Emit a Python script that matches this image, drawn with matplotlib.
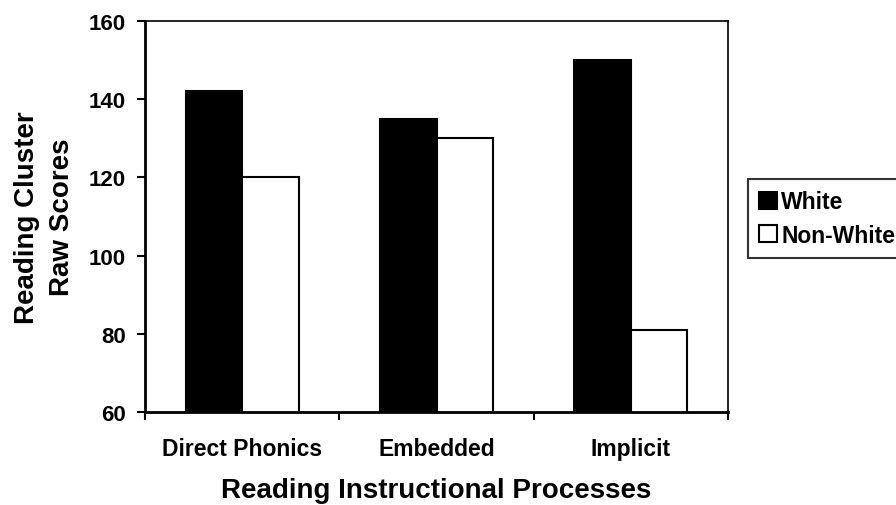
import matplotlib.pyplot as plt
import numpy as np

plt.rcParams['font.family'] = ['Liberation Sans', 'DejaVu Sans']
plt.rcParams['font.weight'] = 'bold'

categories = ['Direct Phonics', 'Embedded', 'Implicit']
white = [142, 135, 150]
non_white = [120, 130, 81]

fig = plt.figure(figsize=(8.96, 5.06), dpi=100)
ax = fig.add_axes([145/896, 1 - 413/506, 583/896, 391/506])

x = np.arange(len(categories))
w = 0.29
ax.bar(x - w/2, white, w, color='black', edgecolor='black', linewidth=1.5, label='White')
ax.bar(x + w/2, non_white, w, color='white', edgecolor='black', linewidth=1.5, label='Non-White')

ax.set_xlim(-0.5, 2.5)
ax.set_ylim(60, 160)
ax.set_yticks([60, 80, 100, 120, 140, 160])
ax.set_xticks(x)
ax.set_xticklabels(categories)
ax.set_xticks([-0.5, 0.5, 1.5, 2.5], minor=True)
ax.tick_params(axis='x', which='major', length=0, pad=18, labelsize=16.5)
ax.tick_params(axis='x', which='minor', length=6, width=1.5, direction='out')
ax.tick_params(axis='y', length=6, width=1.5, direction='out', pad=8, labelsize=16)

for side in ['left', 'bottom']:
    ax.spines[side].set_linewidth(2)
for side in ['top', 'right']:
    ax.spines[side].set_linewidth(1.2)

ax.set_xlabel('Reading Instructional Processes', fontsize=20, fontweight='bold', labelpad=12)
ax.set_ylabel('Reading Cluster\nRaw Scores', fontsize=20, fontweight='bold', labelpad=10,
              linespacing=1.45)

leg = fig.legend(loc='upper left', bbox_to_anchor=(748/896, 1 - 180/506),
                 frameon=True, fancybox=False, edgecolor='black', fontsize=16.5,
                 handlelength=0.75, handleheight=0.75, handletextpad=0.2,
                 borderpad=0.5, labelspacing=0.45, borderaxespad=0)
leg.get_frame().set_linewidth(1.5)

fig.savefig('out.png', dpi=100)
